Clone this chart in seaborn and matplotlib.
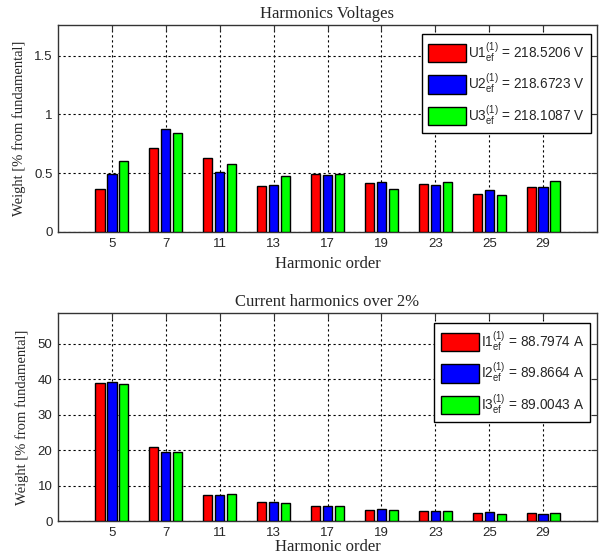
import matplotlib
matplotlib.use("Agg")
import matplotlib.pyplot as plt
import seaborn as sns
import pandas as pd

# ---- data ----
orders = ["5", "7", "11", "13", "17", "19", "23", "25", "29"]
u1 = [0.362, 0.718, 0.633, 0.390, 0.490, 0.416, 0.407, 0.323, 0.384]
u2 = [0.490, 0.873, 0.506, 0.398, 0.483, 0.424, 0.400, 0.357, 0.384]
u3 = [0.604, 0.845, 0.582, 0.475, 0.490, 0.362, 0.424, 0.315, 0.430]
i1 = [38.9, 21.0, 7.3, 5.3, 4.3, 3.0, 2.72, 2.15, 2.15]
i2 = [39.2, 19.6, 7.3, 5.3, 4.3, 3.3, 2.72, 2.45, 1.88]
i3 = [38.7, 19.6, 7.6, 5.05, 4.3, 3.0, 2.72, 1.88, 2.15]
u_labels = [r"U1$_{\mathrm{ef}}^{(1)}$ = 218.5206 V",
            r"U2$_{\mathrm{ef}}^{(1)}$ = 218.6723 V",
            r"U3$_{\mathrm{ef}}^{(1)}$ = 218.1087 V"]
i_labels = [r"I1$_{\mathrm{ef}}^{(1)}$ = 88.7974 A",
            r"I2$_{\mathrm{ef}}^{(1)}$ = 89.8664 A",
            r"I3$_{\mathrm{ef}}^{(1)}$ = 89.0043 A"]
colors = ["#ff0000", "#0000ff", "#00ff00"]

sns.set_style("white")
plt.rcParams["font.family"] = ["Liberation Sans", "DejaVu Sans"]
plt.rcParams["mathtext.fontset"] = "custom"
plt.rcParams["mathtext.rm"] = "Liberation Sans"
plt.rcParams["mathtext.it"] = "Liberation Sans"

W, H = 601, 558
fig = plt.figure(figsize=(W / 100, H / 100), dpi=100)


def make_df(series, labels):
    rows = []
    for lab, vals in zip(labels, series):
        for o, v in zip(orders, vals):
            rows.append({"order": o, "value": v, "phase": lab})
    return pd.DataFrame(rows)


def panel(rect, series, labels, title, ylim, yticks, ytl, leg_anchor, xlabpad):
    ax = fig.add_axes(rect)
    df = make_df(series, labels)
    sns.barplot(data=df, x="order", y="value", hue="phase", order=orders,
                hue_order=labels, palette=colors, saturation=1, width=0.667,
                gap=0.23, edgecolor="black", linewidth=1.0, ax=ax, zorder=3)
    ax.set_xlim(-1, 9)
    ax.set_ylim(*ylim)
    ax.set_yticks(yticks)
    ax.set_yticklabels(ytl)
    ax.grid(True, linestyle=(0, (2, 2.5)), color="black", linewidth=0.8, zorder=0)
    ax.set_axisbelow(True)
    ax.tick_params(direction="in", length=4, top=True, right=True,
                   labelsize=9.5, pad=4, color="#333333")
    for s in ax.spines.values():
        s.set_color("#333333")
        s.set_linewidth(1.0)
    ax.set_title(title, family="Liberation Serif", fontsize=12, pad=5)
    ax.set_xlabel("Harmonic order", family="Liberation Serif", fontsize=12,
                  labelpad=xlabpad)
    ax.set_ylabel("Weight [% from fundamental]", family="Liberation Serif",
                  fontsize=10.5, labelpad=6)
    handles, labs = ax.get_legend_handles_labels()
    leg = ax.legend(handles, labs, loc="upper right",
                    bbox_to_anchor=(leg_anchor[0] / W, 1 - leg_anchor[1] / H),
                    bbox_transform=fig.transFigure, borderaxespad=0,
                    fontsize=9.8, handlelength=2.8, handleheight=1.7,
                    labelspacing=0.55, handletextpad=0.15, borderpad=0.45,
                    fancybox=False, framealpha=1, edgecolor="black")
    leg.get_frame().set_linewidth(1.0)
    return ax


panel([58 / W, 1 - 232 / H, 539 / W, 207 / H], [u1, u2, u3], u_labels,
      "Harmonics Voltages", (0, 1.76), [0, 0.5, 1, 1.5], ["0", "0.5", "1", "1.5"],
      (591, 34), 5)
panel([58 / W, 1 - 521 / H, 539 / W, 208 / H], [i1, i2, i3], i_labels,
      "Current harmonics over 2%", (0, 58.7), [0, 10, 20, 30, 40, 50],
      ["0", "10", "20", "30", "40", "50"], (590, 323), 0)

fig.savefig("out.png", dpi=100)
